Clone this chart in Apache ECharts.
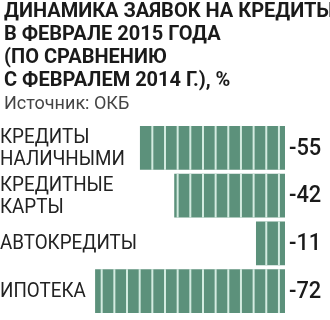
<!DOCTYPE html>
<html>
<head>
<meta charset="utf-8">
<script src="https://cdn.jsdelivr.net/npm/echarts@6/dist/echarts.min.js"></script>
<style>
    html, body { margin: 0; padding: 0; background: #fff; }
    #chart { width: 330px; height: 320px; }
</style>
</head>
<body>
<div id="chart"></div>
<script>
//категории и значения
var categories = ["КРЕДИТЫ\nНАЛИЧНЫМИ", "КРЕДИТНЫЕ\nКАРТЫ", "АВТОКРЕДИТЫ", "ИПОТЕКА"];
var values = [-55, -42, -11, -72];
var titleLines = ["ДИНАМИКА ЗАЯВОК НА КРЕДИТЫ", "В ФЕВРАЛЕ 2015 ГОДА", "(ПО СРАВНЕНИЮ", "С ФЕВРАЛЕМ 2014 Г.), %"];
var sourceText = "Источник: ОКБ";

var barColor = "#5c917b";
var stripeColor = "#d3ebe0";

var myChart = echarts.init(document.getElementById("chart"), null, { renderer: "canvas" });

//бар с полосками, подписью категории и значением
function renderBar(params, api) {
    var v = api.value(0);
    var ci = api.value(1);
    var end = api.coord([0, ci]);
    var start = api.coord([v, ci]);
    var h = api.size([0, 1])[1] * 0.92;
    var top = end[1] - h / 2;
    var children = [{
        type: "rect",
        shape: { x: start[0], y: top, width: end[0] - start[0], height: h },
        style: { fill: barColor }
    }];
    //полоски
    for (var k = -2.3; k > v; k -= 4.8) {
        var p = api.coord([k, ci]);
        children.push({
            type: "rect",
            shape: { x: p[0] - 1, y: top, width: 2, height: h },
            style: { fill: stripeColor }
        });
    }
    //значение
    children.push({
        type: "text",
        x: end[0] + 4,
        y: end[1] + 1,
        scaleX: 0.95,
        style: {
            text: String(v),
            x: 0,
            y: 0,
            verticalAlign: "middle",
            align: "left",
            font: "500 23px Roboto",
            fill: "#1a1a1a"
        }
    });
    //категория (узкий шрифт)
    children.push({
        type: "text",
        x: 0,
        y: end[1] + 1,
        scaleX: 0.94,
        style: {
            text: categories[ci],
            x: 0,
            y: 0,
            verticalAlign: "middle",
            align: "left",
            font: "20px Roboto",
            lineHeight: 22,
            fill: "#222"
        }
    });
    return { type: "group", children: children };
}

var option = {
    animation: false,
    title: {
        text: titleLines.join("\n"),
        subtext: sourceText,
        left: -1,
        top: -5,
        itemGap: 3,
        textStyle: {
            fontFamily: "Roboto",
            fontWeight: "bold",
            fontSize: 20,
            lineHeight: 23,
            color: "#1a1a1a"
        },
        subtextStyle: {
            fontFamily: "Roboto",
            fontSize: 18,
            lineHeight: 19,
            color: "#444"
        }
    },
    grid: {
        left: 74,
        right: 45,
        top: 124,
        bottom: 5
    },
    xAxis: {
        type: "value",
        min: -80,
        max: 0,
        show: false
    },
    yAxis: {
        type: "category",
        inverse: true,
        data: categories,
        show: false
    },
    series: [{
        type: "custom",
        renderItem: renderBar,
        encode: { x: 0, y: 1 },
        data: values.map(function (v, i) { return [v, i]; })
    }]
};

myChart.setOption(option);
</script>
</body>
</html>
